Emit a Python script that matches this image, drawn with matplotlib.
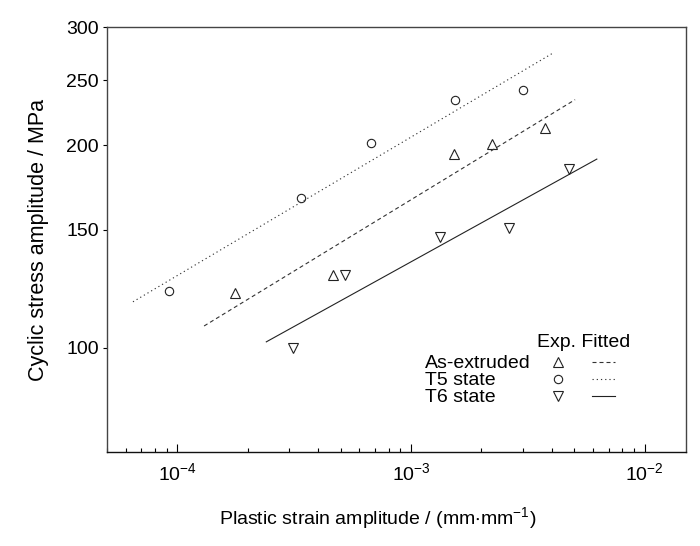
import matplotlib
matplotlib.use('Agg')
import matplotlib.pyplot as plt
from matplotlib.ticker import FixedLocator, NullLocator, LogLocator, FuncFormatter

plt.rcParams['font.family'] = ['Liberation Sans', 'DejaVu Sans']
plt.rcParams['mathtext.fontset'] = 'custom'
plt.rcParams['mathtext.rm'] = 'Liberation Sans'
plt.rcParams['mathtext.default'] = 'regular'
plt.rcParams['axes.unicode_minus'] = False

# experimental points (plastic strain amplitude, stress amplitude in MPa)
ext_strain = [1.76e-4, 4.64e-4, 1.525e-3, 2.21e-3, 3.74e-3]
ext_stress = [120.5, 128.5, 194, 201, 212]
t5_strain = [9.2e-5, 3.37e-4, 6.73e-4, 1.54e-3, 3.0e-3]
t5_stress = [121.6, 167, 202, 234, 242]
t6_strain = [3.12e-4, 5.2e-4, 1.33e-3, 2.61e-3, 4.75e-3]
t6_stress = [100, 128.5, 146, 150.6, 184.7]

# fitted lines (end points, straight in log-log)
ext_fit_strain = [1.30e-4, 5.03e-3]
ext_fit_stress = [107.8, 234]
t5_fit_strain = [6.45e-5, 4.06e-3]
t5_fit_stress = [117.1, 274.7]
t6_fit_strain = [2.40e-4, 6.23e-3]
t6_fit_stress = [102.1, 190.9]

series_names = ['As-extruded', 'T5 state', 'T6 state']
y_ticks = [100, 150, 200, 250, 300]

fs = 14
fig = plt.figure(figsize=(7, 5.46), dpi=100)
ax = fig.add_axes([0.153, 0.172, 0.827, 0.7784])

mk = dict(linestyle='none', markerfacecolor='none', markeredgecolor='#222222', markeredgewidth=0.8)
styles = [
    dict(marker='^', ms=7, dashes=(3.6, 2.7), color='#333333'),
    dict(marker='o', ms=6, dashes=(1.1, 2.7), color='#333333'),
    dict(marker='v', ms=7, dashes=None, color='#222222'),
]
points = [(ext_strain, ext_stress), (t5_strain, t5_stress), (t6_strain, t6_stress)]
fits = [(ext_fit_strain, ext_fit_stress), (t5_fit_strain, t5_fit_stress), (t6_fit_strain, t6_fit_stress)]

for (xs, ys), (fx, fy), st in zip(points, fits, styles):
    ax.plot(xs, ys, marker=st['marker'], markersize=st['ms'], **mk)
    if st['dashes'] is None:
        ax.plot(fx, fy, color=st['color'], lw=0.8)
    else:
        ax.plot(fx, fy, color=st['color'], lw=0.8, dashes=st['dashes'])

ax.set_xscale('log')
ax.set_yscale('log')
ax.set_xlim(5e-5, 1.5e-2)
ax.set_ylim(70, 300)

ax.yaxis.set_major_locator(FixedLocator(y_ticks))
ax.yaxis.set_major_formatter(FuncFormatter(lambda v, p: '%d' % v))
ax.yaxis.set_minor_locator(NullLocator())
ax.xaxis.set_major_locator(LogLocator(base=10))
ax.xaxis.set_minor_locator(LogLocator(base=10, subs=range(2, 10)))

ax.tick_params(axis='x', which='major', direction='in', length=6, width=0.8, pad=7, labelsize=fs)
ax.tick_params(axis='x', which='minor', direction='in', length=3, width=0.8)
ax.tick_params(axis='y', which='major', direction='out', length=3, width=0.8, pad=3, labelsize=fs)
for s in ax.spines.values():
    s.set_color('#444444')
    s.set_linewidth(1.0)
ax.spines['bottom'].set_color('#111111')

ax.set_xlabel('Plastic strain amplitude / (mm$\\cdot$mm$^{-1}$)', fontsize=fs)
ax.set_ylabel('Cyclic stress amplitude / MPa', fontsize=15.5)
ax.xaxis.set_label_coords(0.468, -0.125)
ax.yaxis.set_label_coords(-0.10, 0.5)

# hand-made legend table: label | Exp. marker | Fitted line
ax.text(0.742, 0.248, 'Exp. Fitted', transform=ax.transAxes, fontsize=fs,
        ha='left', va='baseline')
row0, step = 0.197, 0.0393
for i, (name, st) in enumerate(zip(series_names, styles)):
    yb = row0 - i * step
    ax.text(0.549, yb, name, transform=ax.transAxes, fontsize=fs, ha='left', va='baseline')
    ym = yb + 0.014
    ax.plot([0.7795], [ym], transform=ax.transAxes, marker=st['marker'],
            markersize=st['ms'], clip_on=False, **mk)
    if st['dashes'] is None:
        ax.plot([0.837, 0.877], [ym, ym], transform=ax.transAxes, color=st['color'], lw=0.8)
    else:
        ax.plot([0.837, 0.877], [ym, ym], transform=ax.transAxes, color=st['color'],
                lw=0.8, dashes=st['dashes'])

fig.savefig('out.png', dpi=100)
